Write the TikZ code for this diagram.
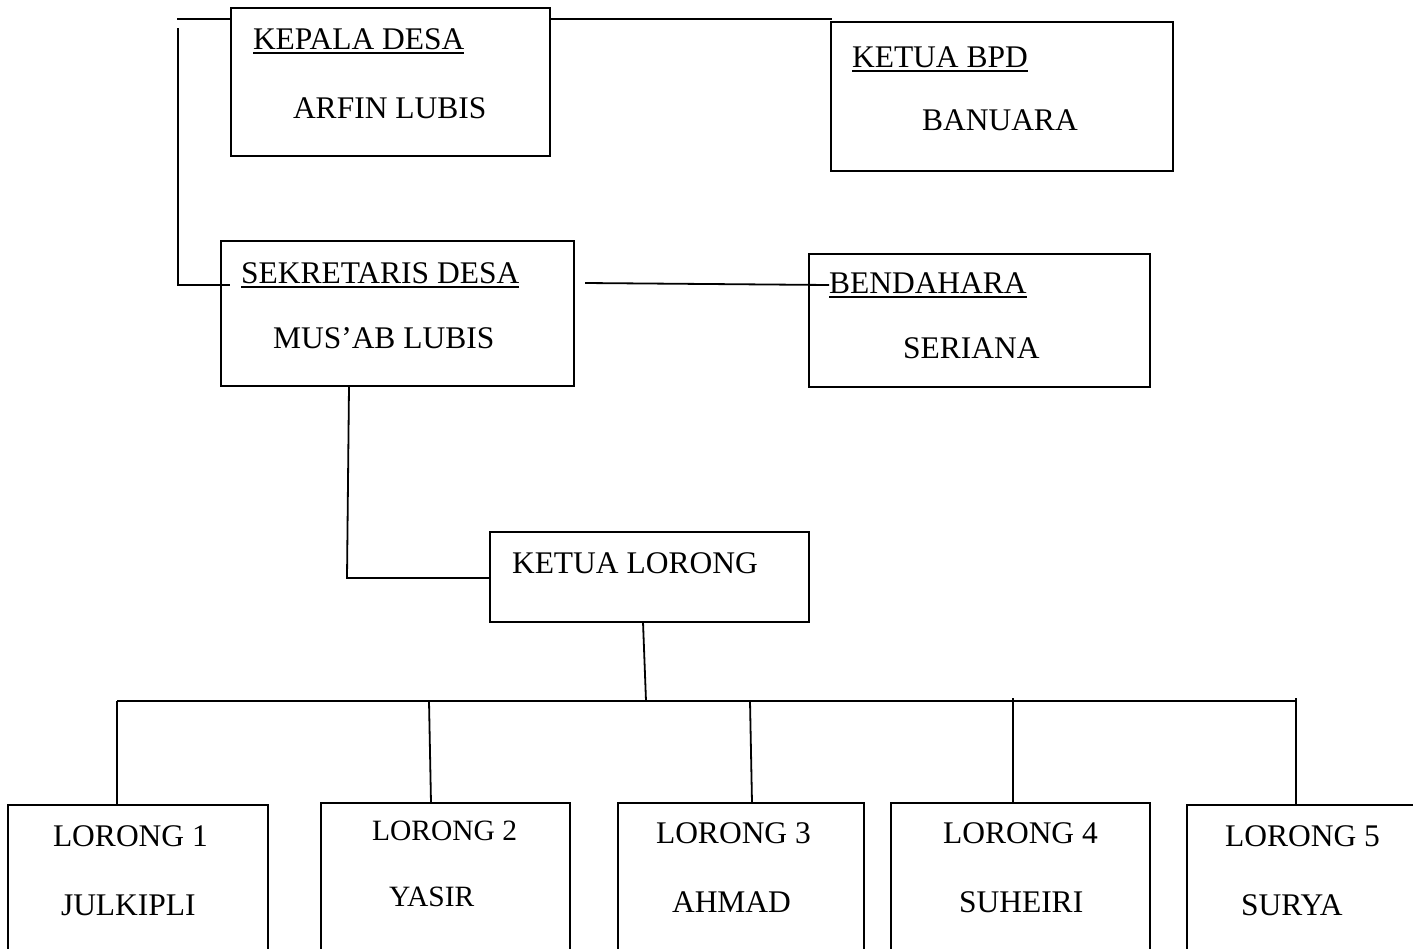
\documentclass[tikz,border=0pt]{standalone}
\usepackage{fontspec}
\setmainfont{Liberation Serif}
\begin{document}
\begin{tikzpicture}[x=1pt,y=-1pt,
  box/.style={draw=black,line width=1.8pt,rectangle,inner sep=0pt,outer sep=0pt},
  conn/.style={draw=black,line width=1.8pt},
  uline/.style={draw=black,line width=1.8pt},
  lbl/.style={anchor=base west,inner sep=0pt,outer sep=0pt,font=\fontsize{31.5}{36}\selectfont},
  lbls/.style={anchor=base west,inner sep=0pt,outer sep=0pt,font=\fontsize{29.5}{34}\selectfont}]
\clip (0,0) rectangle (1413,948);
\fill[white] (0,0) rectangle (1413,948);

% boxes
\node[box,minimum width=319pt,minimum height=148pt] (kdbox) at (390.5,82) {};
\node[box,minimum width=342pt,minimum height=149pt] (bpdbox) at (1002,96.5) {};
\node[box,minimum width=353pt,minimum height=145pt] (sekbox) at (397.5,313.5) {};
\node[box,minimum width=341pt,minimum height=133pt] (benbox) at (979.5,320.5) {};
\node[box,minimum width=319pt,minimum height=90pt] (klbox) at (649.5,577) {};
\node[box,minimum width=260pt,minimum height=165pt] (lbox1) at (138,887.5) {};
\node[box,minimum width=249pt,minimum height=167pt] (lbox2) at (445.5,886.5) {};
\node[box,minimum width=246pt,minimum height=167pt] (lbox3) at (741,886.5) {};
\node[box,minimum width=259pt,minimum height=167pt] (lbox4) at (1020.5,886.5) {};
\node[box,minimum width=233pt,minimum height=165pt] (lbox5) at (1303.5,887.5) {};

% texts
\node[lbl] (kdt) at (253,49) {KEPALA DESA};
\node[lbl] (kdn) at (293,118) {ARFIN LUBIS};
\node[lbl] (bpdt) at (852,67) {KETUA BPD};
\node[lbl] (bpdn) at (922,130) {BANUARA};
\node[lbl] (sekt) at (241,283) {SEKRETARIS DESA};
\node[lbl] (sekn) at (273,348) {MUS’AB LUBIS};
\node[lbl] (bent) at (829,293) {BENDAHARA};
\node[lbl] (benn) at (903,358) {SERIANA};
\node[lbl] (klt) at (512,573) {KETUA LORONG};
\node[lbl] (l1t) at (53,846) {LORONG 1};
\node[lbl] (l1n) at (61,915) {JULKIPLI};
\node[lbls] (l2t) at (372,840) {LORONG 2};
\node[lbls] (l2n) at (389,906) {YASIR};
\node[lbl] (l3t) at (656,843) {LORONG 3};
\node[lbl] (l3n) at (672,912) {AHMAD};
\node[lbl] (l4t) at (943,843) {LORONG 4};
\node[lbl] (l4n) at (959,912) {SUHEIRI};
\node[lbl] (l5t) at (1225,846) {LORONG 5};
\node[lbl] (l5n) at (1241,915) {SURYA};

% underlines
\foreach \t in {kdt,bpdt,sekt,bent}
  \draw[uline] ([yshift=-4pt]\t.base west) -- ([yshift=-4pt]\t.base east);

% connectors
\coordinate (tl) at (177,19);
\draw[conn] (tl) -- (tl -| kdbox.west);
\draw[conn] (kdbox.east |- tl) -- ([xshift=1pt]bpdbox.west |- tl);

\coordinate (lv) at (178,28);
\coordinate (lc) at (178,285);
\coordinate (sekin) at (230,285);
\draw[conn] (lv) -- (lc) -- (sekin);

\coordinate (sb1) at (585,283);
\coordinate (sb2) at (829,285);
\draw[conn] (sb1) -- (sb2);

\coordinate (sk1) at (349,386);
\coordinate (sk2) at (347,578);
\draw[conn] (sk1) -- (sk2) -- (sk2 -| klbox.west);

\coordinate (kl1) at (643,622);
\coordinate (kl2) at (646,701);
\draw[conn] (kl1) -- (kl2);

\coordinate (busl) at (117,701);
\coordinate (busr) at (1296,701);
\draw[conn] (busl) -- (busr);

\coordinate (d2) at (429,701);
\coordinate (d3) at (750,701);
\coordinate (d4) at (1013,698);
\coordinate (d5) at (1296,698);
\draw[conn] (busl) -- (busl |- lbox1.north);
\draw[conn] (d2) -- ([xshift=431pt-429pt]d2 |- lbox2.north);
\draw[conn] (d3) -- ([xshift=2pt]d3 |- lbox3.north);
\draw[conn] (d4) -- (d4 |- lbox4.north);
\draw[conn] (d5) -- (d5 |- lbox5.north);
\end{tikzpicture}
\end{document}
